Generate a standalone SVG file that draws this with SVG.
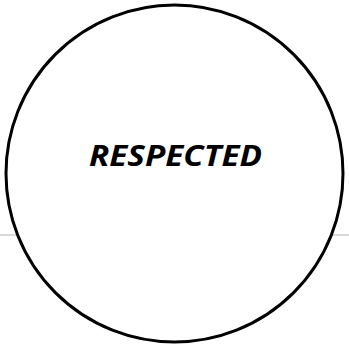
<svg xmlns="http://www.w3.org/2000/svg" width="349" height="347" viewBox="0 0 349 347">
<style>
.lbl{font-family:"Open Sans","Liberation Sans",sans-serif;font-weight:bold;font-style:italic;font-size:29px;fill:#000}
</style>
<rect width="349" height="347" fill="#fff"/>
<line x1="0" y1="235" x2="349" y2="235" stroke="#d9d9d9" stroke-width="2"/>
<g id="node-respected">
<circle cx="174.5" cy="173.5" r="168.5" fill="#fff" stroke="#000" stroke-width="3"/>
<text class="lbl" x="175.5" y="166" text-anchor="middle" textLength="173" lengthAdjust="spacingAndGlyphs">RESPECTED</text>
</g>
</svg>
